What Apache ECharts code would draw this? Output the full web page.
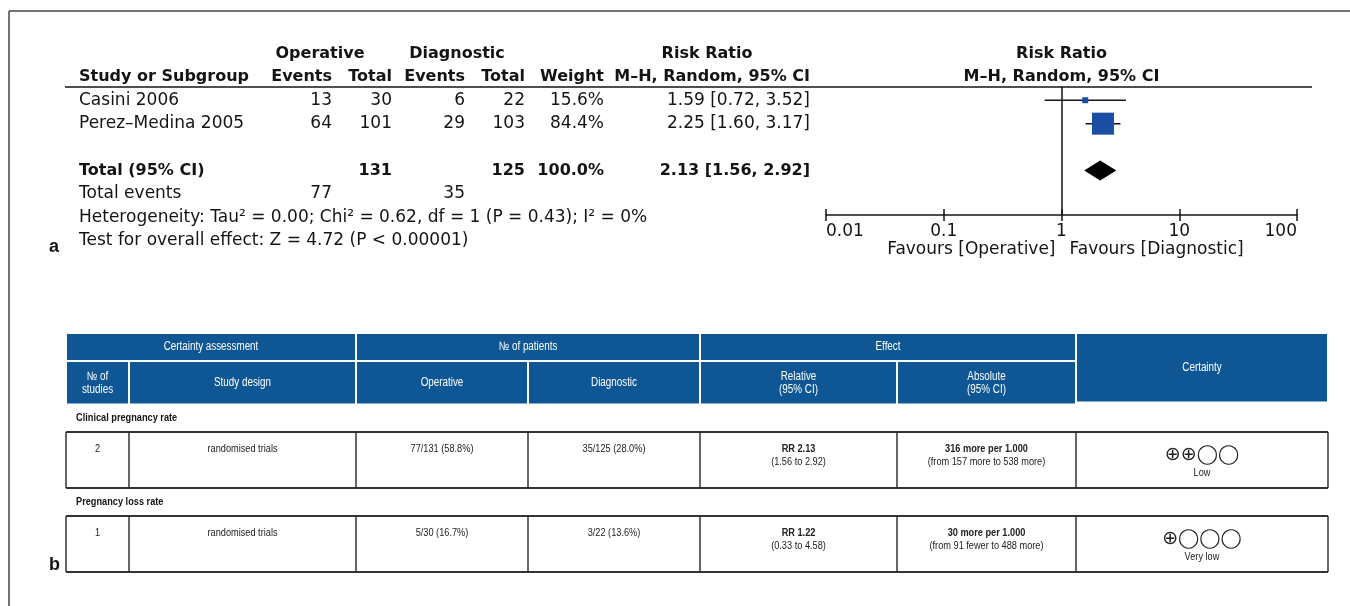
<!DOCTYPE html>
<html>
<head>
<meta charset="utf-8">
<script src="https://cdn.jsdelivr.net/npm/echarts@6/dist/echarts.min.js"></script>
<style>
  html, body { margin: 0; padding: 0; background: #ffffff; }
  #chart { width: 1350px; height: 606px; }
</style>
</head>
<body>
<div id="chart"></div>
<script>
// ---- (a) forest plot: individual trials ----
const studies = ['Casini 2006', 'Perez\u2013Medina 2005'];
const operativeEvents = [13, 64];
const operativeTotal = [30, 101];
const diagnosticEvents = [6, 29];
const diagnosticTotal = [22, 103];
const weights = [15.6, 84.4];
const riskRatio = [1.59, 2.25];
const ciLower = [0.72, 1.60];
const ciUpper = [3.52, 3.17];

// ---- (a) forest plot: pooled estimate ----
const pooledRR = [2.13, 1.56, 2.92];          // estimate, lower, upper
const pooledTotals = [131, 125];              // operative, diagnostic
const pooledWeight = [100.0];
const totalEvents = [77, 35];                 // operative, diagnostic
const heterogeneity = ['0.00', '0.62', '1', '0.43', '0%']; // Tau², Chi², df, P, I²
const overallEffect = ['4.72', '< 0.00001'];  // Z, P

// ---- (a) axis ----
const axisTicks = [0.01, 0.1, 1, 10, 100];
const axisTickLabels = ['0.01', '0.1', '1', '10', '100'];
const favoursLabels = ['Favours [Operative]', 'Favours [Diagnostic]'];

// ---- (b) summary of findings table ----
const headerGroups = ['Certainty assessment', '\u2116 of patients', 'Effect', 'Certainty'];
const headerColumns = ['\u2116 of\nstudies', 'Study design', 'Operative', 'Diagnostic', 'Relative\n(95% CI)', 'Absolute\n(95% CI)'];
const outcomes = ['Clinical pregnancy rate', 'Pregnancy loss rate'];
const numberOfStudies = ['2', '1'];
const studyDesign = ['randomised trials', 'randomised trials'];
const operativeRates = ['77/131 (58.8%)', '5/30 (16.7%)'];
const diagnosticRates = ['35/125 (28.0%)', '3/22 (13.6%)'];
const relativeEffect = ['RR 2.13', 'RR 1.22'];
const relativeCI = ['(1.56 to 2.92)', '(0.33 to 4.58)'];
const absoluteEffect = ['316 more per 1.000', '30 more per 1.000'];
const absoluteCI = ['(from 157 more to 538 more)', '(from 91 fewer to 488 more)'];
const certaintySymbols = ['\u2295\u2295\u25EF\u25EF', '\u2295\u25EF\u25EF\u25EF'];
const certaintyLabels = ['Low', 'Very low'];

// ---- styling ----
const FONT = '"DejaVu Sans", Verdana, sans-serif';
const ARIAL = '"Liberation Sans", Arial, sans-serif';
const NARROW_SCALE = 0.8;   // condensed look for the table text
const INK = '#141414';
const SQUARE_BLUE = '#1a4ea3';
const HEADER_BLUE = '#0e5794';

const fmt2 = v => v.toFixed(2);
const ciText = (r, lo, hi) => fmt2(r) + ' [' + fmt2(lo) + ', ' + fmt2(hi) + ']';

const chart = echarts.init(document.getElementById('chart'), null, { renderer: 'canvas' });

// rows on the plot's vertical scale: trials at 0 and 1, pooled estimate at 3
const studyRows = studies.map((_, i) => i);
const totalRow = 3;
const minW = Math.min(...weights), maxW = Math.max(...weights);

const studyData = studies.map((s, i) => [riskRatio[i], studyRows[i], ciLower[i], ciUpper[i], weights[i]]);
const pooledData = [[pooledRR[0], totalRow, pooledRR[1], pooledRR[2]]];

const tickLabel = v => axisTickLabels[Math.round(Math.log10(v)) + 2];

const baseAxis = {
  type: 'log', logBase: 10, min: axisTicks[0], max: axisTicks[axisTicks.length - 1],
  gridIndex: 0, position: 'bottom', splitLine: { show: false }
};

chart.setOption({
  animation: false,
  grid: { left: 826, right: 53, top: 87, bottom: 391, containLabel: false },
  xAxis: [
    Object.assign({}, baseAxis, {
      axisLine: { show: true, onZero: false, lineStyle: { color: INK, width: 1.5 } },
      axisTick: { show: true, inside: true, length: 6, lineStyle: { color: INK, width: 1.5 } },
      axisLabel: {
        show: true, margin: 8, color: INK, fontFamily: FONT, fontSize: 17,
        formatter: tickLabel, alignMinLabel: 'left', alignMaxLabel: 'right', showMinLabel: true, showMaxLabel: true
      }
    }),
    Object.assign({}, baseAxis, {
      axisLine: { show: false, onZero: false },
      axisTick: { show: true, inside: false, length: 6, lineStyle: { color: INK, width: 1.5 } },
      axisLabel: { show: false }
    })
  ],
  yAxis: { type: 'value', inverse: true, min: -0.565, max: 4.9, show: false, splitLine: { show: false } },
  series: [
    {
      type: 'custom', name: 'trials', xAxisIndex: 0, yAxisIndex: 0,
      data: studyData,
      encode: { x: 0, y: 1 },
      renderItem: (params, api) => {
        const row = api.value(1);
        const c = api.coord([api.value(0), row]);
        const lo = api.coord([api.value(2), row]);
        const hi = api.coord([api.value(3), row]);
        const side = 6 + (api.value(4) - minW) / (maxW - minW) * 16;
        return {
          type: 'group',
          children: [
            { type: 'line', shape: { x1: lo[0], y1: lo[1], x2: hi[0], y2: hi[1] }, style: { stroke: INK, lineWidth: 1.5 } },
            { type: 'rect', shape: { x: c[0] - side / 2, y: c[1] - side / 2, width: side, height: side }, style: { fill: SQUARE_BLUE } }
          ]
        };
      },
      markLine: {
        silent: true, symbol: 'none', animation: false,
        label: { show: false },
        lineStyle: { color: INK, width: 1.5, type: 'solid' },
        data: [{ xAxis: 1 }]
      }
    },
    {
      type: 'custom', name: 'pooled', xAxisIndex: 0, yAxisIndex: 0,
      data: pooledData,
      encode: { x: 0, y: 1 },
      renderItem: (params, api) => {
        const row = api.value(1);
        const c = api.coord([api.value(0), row]);
        const lo = api.coord([api.value(2), row]);
        const hi = api.coord([api.value(3), row]);
        const h = 10;
        return {
          type: 'polygon',
          shape: { points: [[lo[0], c[1]], [c[0], c[1] - h], [hi[0], c[1]], [c[0], c[1] + h]] },
          style: { fill: '#000000' }
        };
      }
    }
  ]
});

// ---- text and table, positioned from the plot's own scales ----
const rowY = r => chart.convertToPixel({ yAxisIndex: 0 }, r);
const xAt = v => chart.convertToPixel({ xAxisIndex: 0 }, v);

const g = [];
function text(x, y, str, o) {
  o = o || {};
  g.push({
    type: 'text', x: x, y: y, silent: true, z: 10,
    scaleX: o.scaleX || 1,
    style: {
      text: str,
      font: (o.bold ? 'bold ' : '') + (o.size || 17) + 'px ' + (o.family || FONT),
      fill: o.fill || INK,
      align: o.align || 'left',
      verticalAlign: 'middle',
      lineHeight: o.lineHeight
    }
  });
}
function line(x1, y1, x2, y2, w, color) {
  g.push({ type: 'line', silent: true, shape: { x1, y1, x2, y2 }, style: { stroke: color || INK, lineWidth: w } });
}
function rect(x, y, w, h, fill) {
  g.push({ type: 'rect', silent: true, shape: { x, y, width: w, height: h }, style: { fill: fill } });
}

// frame
line(9, 11, 1350, 11, 1.5, '#444');
line(9, 11, 9, 606, 1.5, '#444');

// forest plot text columns (right edges)
const colX = { study: 79, opEv: 332, opTot: 392, dgEv: 465, dgTot: 525, weight: 604, ci: 810 };
const yH1 = rowY(-2), yH2 = rowY(-1);
text(320, yH1, 'Operative', { bold: true, align: 'center', size: 16 });
text(457, yH1, 'Diagnostic', { bold: true, align: 'center', size: 16 });
text(707, yH1, 'Risk Ratio', { bold: true, align: 'center', size: 16 });
text(colX.study, yH2, 'Study or Subgroup', { bold: true, size: 16 });
text(colX.opEv, yH2, 'Events', { bold: true, align: 'right', size: 16 });
text(colX.opTot, yH2, 'Total', { bold: true, align: 'right', size: 16 });
text(colX.dgEv, yH2, 'Events', { bold: true, align: 'right', size: 16 });
text(colX.dgTot, yH2, 'Total', { bold: true, align: 'right', size: 16 });
text(colX.weight, yH2, 'Weight', { bold: true, align: 'right', size: 16 });
text(colX.ci, yH2, 'M\u2013H, Random, 95% CI', { bold: true, align: 'right', size: 16 });

const x1 = xAt(1);
text(x1, yH1, 'Risk Ratio', { bold: true, align: 'center', size: 16 });
text(x1, yH2, 'M\u2013H, Random, 95% CI', { bold: true, align: 'center', size: 16 });

line(65, 87, 1312, 87, 1.5);

studies.forEach((s, i) => {
  const y = rowY(studyRows[i]);
  text(colX.study, y, s);
  text(colX.opEv, y, String(operativeEvents[i]), { align: 'right' });
  text(colX.opTot, y, String(operativeTotal[i]), { align: 'right' });
  text(colX.dgEv, y, String(diagnosticEvents[i]), { align: 'right' });
  text(colX.dgTot, y, String(diagnosticTotal[i]), { align: 'right' });
  text(colX.weight, y, weights[i].toFixed(1) + '%', { align: 'right' });
  text(colX.ci, y, ciText(riskRatio[i], ciLower[i], ciUpper[i]), { align: 'right' });
});

const yT = rowY(totalRow);
text(colX.study, yT, 'Total (95% CI)', { bold: true, size: 16 });
text(colX.opTot, yT, String(pooledTotals[0]), { bold: true, align: 'right', size: 16 });
text(colX.dgTot, yT, String(pooledTotals[1]), { bold: true, align: 'right', size: 16 });
text(colX.weight, yT, pooledWeight[0].toFixed(1) + '%', { bold: true, align: 'right', size: 16 });
text(colX.ci, yT, ciText(pooledRR[0], pooledRR[1], pooledRR[2]), { bold: true, align: 'right', size: 16 });

const yE = rowY(totalRow + 1);
text(colX.study, yE, 'Total events');
text(colX.opEv, yE, String(totalEvents[0]), { align: 'right' });
text(colX.dgEv, yE, String(totalEvents[1]), { align: 'right' });

text(colX.study, rowY(totalRow + 2),
  'Heterogeneity: Tau\u00B2 = ' + heterogeneity[0] + '; Chi\u00B2 = ' + heterogeneity[1] +
  ', df = ' + heterogeneity[2] + ' (P = ' + heterogeneity[3] + '); I\u00B2 = ' + heterogeneity[4]);
text(colX.study, rowY(totalRow + 3),
  'Test for overall effect: Z = ' + overallEffect[0] + ' (P ' + overallEffect[1] + ')');

text(x1 - 6, 250, favoursLabels[0], { align: 'right' });
text(x1 + 8, 250, favoursLabels[1], { align: 'left' });

// panel letters
text(49, 247, 'a', { bold: true, size: 18, family: ARIAL });
text(49, 565, 'b', { bold: true, size: 18, family: ARIAL });

// ---- (b) table ----
const edges = [66, 129, 356, 528, 700, 897, 1076, 1328];
const hRow1 = [334, 360], hRow2 = [362, 403.5];
const cell = (a, b) => [edges[a] + 1, edges[b] - 1];
const headOpt = { family: ARIAL, size: 12, fill: '#ffffff', align: 'center', scaleX: NARROW_SCALE + 0.02 };
[[0, 2], [2, 4], [4, 6]].forEach((sp, i) => {
  const [xa, xb] = cell(sp[0], sp[1]);
  rect(xa, hRow1[0], xb - xa, hRow1[1] - hRow1[0], HEADER_BLUE);
  text((xa + xb) / 2, (hRow1[0] + hRow1[1]) / 2, headerGroups[i], headOpt);
});
{
  const [xa, xb] = cell(6, 7);
  rect(xa, hRow1[0], xb - xa, 401.5 - hRow1[0], HEADER_BLUE);
  text((xa + xb) / 2, 368, headerGroups[3], headOpt);
}
headerColumns.forEach((h, i) => {
  const [xa, xb] = cell(i, i + 1);
  rect(xa, hRow2[0], xb - xa, hRow2[1] - hRow2[0], HEADER_BLUE);
  text((xa + xb) / 2, (hRow2[0] + hRow2[1]) / 2, h, Object.assign({}, headOpt, { lineHeight: 13 }));
});

const bodyTops = [432, 516];
const bodyH = 56;
outcomes.forEach((o, i) => {
  const top = bodyTops[i];
  text(76, top - 14.5, o, { family: ARIAL, size: 11.5, bold: true, scaleX: NARROW_SCALE });
  // cell borders
  line(edges[0], top, edges[7], top, 2.2, '#333');
  line(edges[0], top + bodyH, edges[7], top + bodyH, 2.2, '#333');
  edges.forEach(x => line(x, top, x, top + bodyH, 1.5, '#333'));
  const cx = k => (edges[k] + edges[k + 1]) / 2;
  const y1 = top + 17, y2 = top + 30;
  const opt = { family: ARIAL, size: 11.5, align: 'center', fill: '#222', scaleX: NARROW_SCALE };
  text(cx(0), y1, numberOfStudies[i], opt);
  text(cx(1), y1, studyDesign[i], opt);
  text(cx(2), y1, operativeRates[i], opt);
  text(cx(3), y1, diagnosticRates[i], opt);
  text(cx(4), y1, relativeEffect[i], Object.assign({}, opt, { bold: true }));
  text(cx(4), y2, relativeCI[i], opt);
  text(cx(5), y1, absoluteEffect[i], Object.assign({}, opt, { bold: true }));
  text(cx(5), y2, absoluteCI[i], opt);
  text(cx(6), top + 23.5, certaintySymbols[i], { family: FONT, size: 19, align: 'center', fill: '#222' });
  text(cx(6), top + 40.5, certaintyLabels[i], opt);
});

chart.setOption({ graphic: { elements: g } });
</script>
</body>
</html>
